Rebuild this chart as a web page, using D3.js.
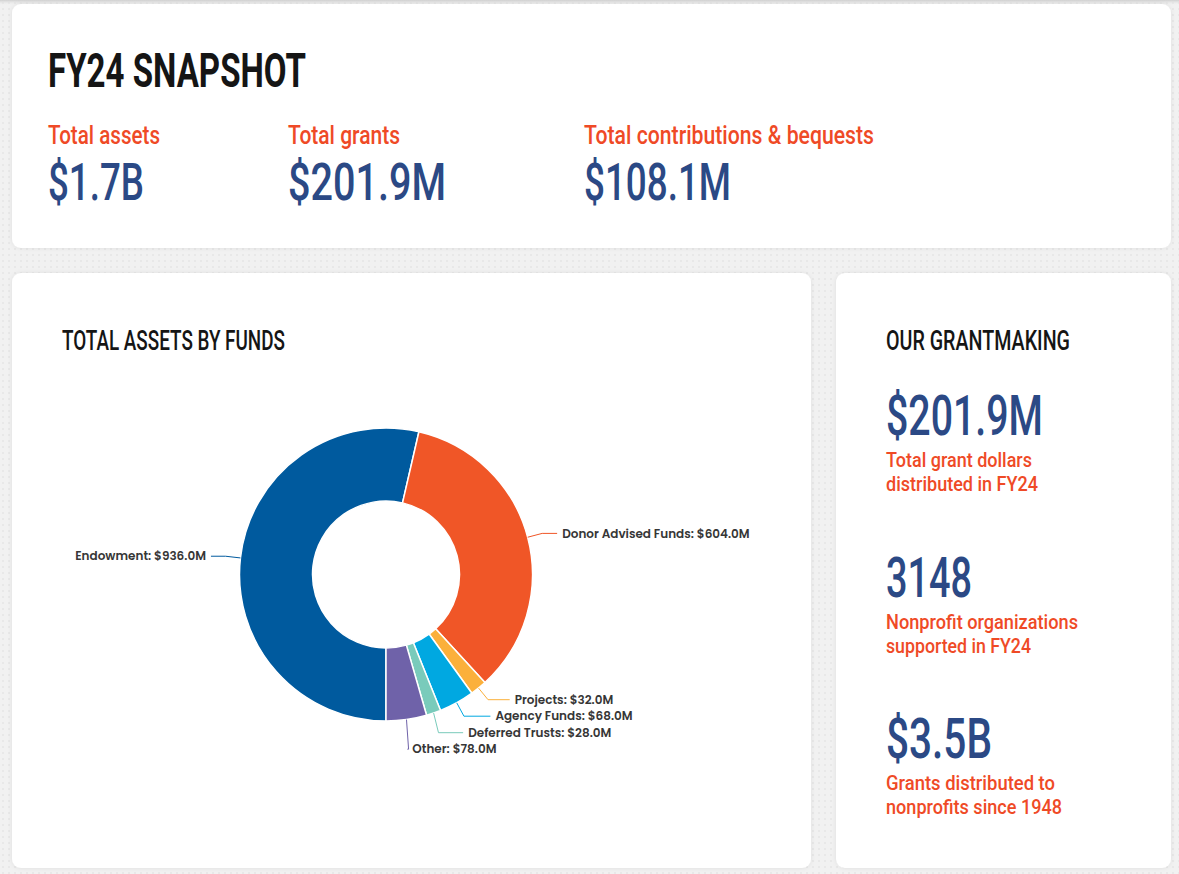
<!DOCTYPE html>
<html><head><meta charset="utf-8">
<script src="https://cdn.jsdelivr.net/npm/d3@7"></script>
<style>
html,body{margin:0;padding:0;background:#efefef;}
svg{display:block;}
</style></head>
<body>
<svg id="chart" width="1179" height="874"></svg>
<script>
// ---------- data ----------
const categories = ["Endowment", "Donor Advised Funds", "Projects", "Agency Funds", "Deferred Trusts", "Other"];
const values = [936.0, 604.0, 32.0, 68.0, 28.0, 78.0];
const sliceColors = ["#005a9e", "#f05627", "#fbb03b", "#00a8e1", "#79cbbb", "#6f62a9"];

const snapshotLabels = ["Total assets", "Total grants", "Total contributions & bequests"];
const snapshotValues = ["$1.7B", "$201.9M", "$108.1M"];

const grantValues = ["$201.9M", "3148", "$3.5B"];
const grantDescriptions = [
  ["Total grant dollars", "distributed in FY24"],
  ["Nonprofit organizations", "supported in FY24"],
  ["Grants distributed to", "nonprofits since 1948"]
];

// ---------- styling ----------
const W = 1179, H = 874;
const ORANGE = "#ef4a26", BLUE = "#2b4985", DARK = "#151515";
const HEAD_FONT = "Roboto, 'Liberation Sans', sans-serif";
const LABEL_FONT = "Poppins, Inter, 'Noto Sans', sans-serif";

const svg = d3.select("#chart");
const defs = svg.append("defs");

// dotted background
const pat = defs.append("pattern").attr("id", "dots").attr("width", 6).attr("height", 6)
  .attr("patternUnits", "userSpaceOnUse");
pat.append("rect").attr("width", 6).attr("height", 6).attr("fill", "#f1f1f1");
pat.append("circle").attr("cx", 3).attr("cy", 3).attr("r", 1).attr("fill", "#e6e6e6");
svg.append("rect").attr("width", W).attr("height", H).attr("fill", "url(#dots)");

// top shadow strip
const tg = defs.append("linearGradient").attr("id", "topShade").attr("x1", 0).attr("y1", 0).attr("x2", 0).attr("y2", 1);
tg.append("stop").attr("offset", 0).attr("stop-color", "#cfcfcf");
tg.append("stop").attr("offset", 1).attr("stop-color", "#efefef").attr("stop-opacity", 0);
svg.append("rect").attr("width", W).attr("height", 5).attr("fill", "url(#topShade)");

// card shadow
const f = defs.append("filter").attr("id", "shadow").attr("x", "-5%").attr("y", "-5%").attr("width", "110%").attr("height", "110%");
f.append("feDropShadow").attr("dx", 0).attr("dy", 0).attr("stdDeviation", 2).attr("flood-color", "#000").attr("flood-opacity", 0.08);

const cards = [
  {x: 12, y: 4, w: 1159, h: 244},
  {x: 12, y: 273, w: 799, h: 595},
  {x: 836, y: 273, w: 335, h: 595}
];
svg.selectAll("rect.card").data(cards).join("rect").attr("class", "card")
  .attr("x", d => d.x).attr("y", d => d.y).attr("width", d => d.w).attr("height", d => d.h)
  .attr("rx", 9).attr("fill", "#fff").attr("filter", "url(#shadow)");

// condensed heading text helper: font sized to cap height, squeezed to measured width
function headText(x, y, txt, size, width, color, weight) {
  return svg.append("text").attr("x", x).attr("y", y).text(txt)
    .attr("font-family", HEAD_FONT).attr("font-weight", weight || 500).attr("font-size", size)
    .attr("fill", color).attr("textLength", width).attr("lengthAdjust", "spacingAndGlyphs");
}

// ---------- snapshot card ----------
headText(48, 87, "FY24 SNAPSHOT", 49, 258, DARK, 700);
const snapX = [48, 288, 584];
const snapLabelW = [112, 112, 290];
const snapValueW = [96, 158, 147];
snapshotLabels.forEach((t, i) => {
  headText(snapX[i], 144, t, 26, snapLabelW[i], ORANGE);
  headText(snapX[i], 200, snapshotValues[i], 51, snapValueW[i], BLUE);
});

// ---------- donut card ----------
headText(62, 350, "TOTAL ASSETS BY FUNDS", 27, 223, DARK);

const cx = 386, cy = 574.5, rOuter = 146.5, rInner = 73.5;
const data = categories.map((c, i) => ({name: c, value: values[i], color: sliceColors[i]}));
const pie = d3.pie().value(d => d.value).sort(null).startAngle(Math.PI).endAngle(3 * Math.PI);
const arcs = pie(data);
const arc = d3.arc().innerRadius(rInner).outerRadius(rOuter);

const g = svg.append("g").attr("transform", `translate(${cx},${cy})`);
g.selectAll("path.slice").data(arcs).join("path").attr("class", "slice")
  .attr("d", arc).attr("fill", d => d.data.color)
  .attr("stroke", "#fff").attr("stroke-width", 1.5).attr("stroke-linejoin", "round");

// labels with leader lines (label line ends lie on a circle of radius R)
const len1 = 15, R = 176, minGap = 16.5;
const labels = arcs.map(a => {
  const mid = (a.startAngle + a.endAngle) / 2;
  const sx = Math.sin(mid), sy = -Math.cos(mid);
  return {
    a, right: sx >= 0,
    p1: [sx * rOuter, sy * rOuter],
    p2: [sx * (rOuter + len1), sy * (rOuter + len1)],
    y: sy * (rOuter + len1)
  };
});
["right", "left"].forEach(side => {
  const list = labels.filter(l => (side === "right") === l.right).sort((p, q) => p.y - q.y);
  for (let i = 1; i < list.length; i++) {
    if (list[i].y < list[i - 1].y + minGap) list[i].y = list[i - 1].y + minGap;
  }
});
const fmt = v => "$" + v.toFixed(1) + "M";
labels.forEach(l => {
  const dir = l.right ? 1 : -1;
  const dy = Math.min(Math.abs(l.y), R - 0.5);
  const endX = dir * Math.sqrt(R * R - dy * dy);
  const elbow = [l.p2[0], l.y];
  const end = [endX, l.y];
  g.append("path")
    .attr("d", d3.line()([l.p1, elbow, end]))
    .attr("fill", "none").attr("stroke", l.a.data.color).attr("stroke-width", 1);
  g.append("text")
    .attr("x", end[0] + dir * 5).attr("y", l.y).attr("dy", "0.35em")
    .attr("text-anchor", l.right ? "start" : "end")
    .attr("font-family", LABEL_FONT).attr("font-weight", 600).attr("font-size", 12)
    .attr("fill", "#363636")
    .text(`${l.a.data.name}: ${fmt(l.a.data.value)}`);
});

// ---------- grantmaking card ----------
headText(886, 350, "OUR GRANTMAKING", 27, 184, DARK);
const gvY = [435, 597, 758];
const gvW = [157, 86, 106];
const gdW = [[146, 152], [192, 145], [169, 176]];
grantValues.forEach((v, i) => {
  headText(886, gvY[i], v, 55, gvW[i], BLUE);
  grantDescriptions[i].forEach((line, j) => {
    headText(886, gvY[i] + 32 + j * 23.5, line, 19.8, gdW[i][j], ORANGE);
  });
});
</script>
</body></html>
